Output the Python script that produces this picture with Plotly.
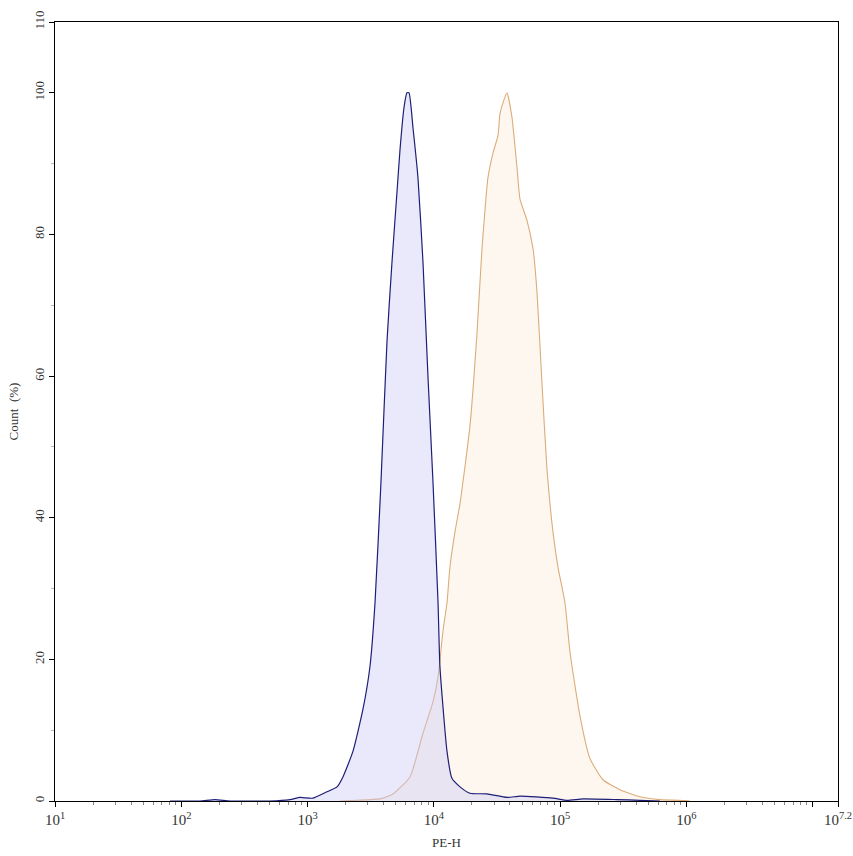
import plotly.graph_objects as go

# PE-H values as log10 exponents
blue_log = [1.911, 2.148, 2.267, 2.386, 2.702, 2.861, 2.940, 3.043, 3.154, 3.233, 3.280, 3.359,
            3.439, 3.494, 3.534, 3.581, 3.629, 3.668, 3.708, 3.732, 3.764, 3.787, 3.803, 3.835,
            3.874, 3.914, 3.953, 3.993, 4.033, 4.048, 4.104, 4.143, 4.207, 4.286, 4.420, 4.579,
            4.682, 4.943, 5.054, 5.181, 5.450, 5.632, 5.790]
blue_count = [0, 0, 0.2, 0, 0, 0.2, 0.5, 0.4, 1.3, 2.0, 3.4, 7,
              13, 19, 28, 45, 65, 76, 86, 92, 98, 100, 100, 95,
              88, 76, 60, 45, 28, 19, 7, 3.2, 2.0, 1.1, 1.0, 0.5,
              0.7, 0.4, 0.1, 0.3, 0.2, 0.1, 0]

orange_log = [3.257, 3.391, 3.573, 3.676, 3.811, 3.914, 3.993, 4.033, 4.072, 4.104, 4.127, 4.167,
              4.207, 4.286, 4.341, 4.381, 4.405, 4.428, 4.468, 4.508, 4.523, 4.555, 4.579, 4.618,
              4.658, 4.682, 4.737, 4.785, 4.816, 4.856, 4.895, 4.943, 4.983, 5.038, 5.078, 5.157,
              5.236, 5.339, 5.473, 5.632, 5.790, 5.988, 6.028]
orange_count = [0, 0.1, 0.3, 1.0, 3.4, 9.6, 14, 17.5, 24, 28, 33, 38,
                42, 53, 66, 78, 83.5, 88, 91.5, 94, 97, 99, 100, 96.6,
                89.5, 85, 82, 78, 72, 59, 47, 38, 33, 28, 21, 12,
                6, 3, 1.6, 0.6, 0.2, 0.05, 0]

x_tick_exp = [1, 2, 3, 4, 5, 6, 7, 7.2]
x_tick_text = ["10<sup>1</sup>", "10<sup>2</sup>", "10<sup>3</sup>", "10<sup>4</sup>",
               "10<sup>5</sup>", "10<sup>6</sup>", "", "10<sup>7.2</sup>"]
y_ticks = [0, 20, 40, 60, 80, 100, 110]

FONT = "Liberation Serif"

fig = go.Figure()
fig.add_trace(go.Scatter(
    x=[10 ** v for v in orange_log], y=orange_count, mode="lines",
    line=dict(color="rgb(220,172,122)", width=1.1, shape="spline", smoothing=0.5),
    fill="tozeroy", fillcolor="rgba(250,220,190,0.24)", showlegend=False))
fig.add_trace(go.Scatter(
    x=[10 ** v for v in blue_log], y=blue_count, mode="lines",
    line=dict(color="rgb(30,30,120)", width=1.2, shape="spline", smoothing=0.5),
    fill="tozeroy", fillcolor="rgba(200,200,245,0.4)", showlegend=False))

minor_x = [m * 10 ** d for d in range(1, 7) for m in range(2, 10)]

fig.update_layout(
    width=853, height=856,
    margin=dict(l=55, r=15, t=22, b=55),
    plot_bgcolor="white", paper_bgcolor="white",
    font=dict(family=FONT, color="#333333", size=13),
    xaxis=dict(
        type="log", range=[1, 7.2], automargin=False,
        tickmode="array", tickvals=[10 ** v for v in x_tick_exp], ticktext=x_tick_text,
        ticks="outside", ticklen=5, tickcolor="black",
        showline=True, linecolor="black", linewidth=1, mirror=True,
        showgrid=False, zeroline=False,
        tickfont=dict(size=15, family=FONT, color="#333333"),
        minor=dict(tickvals=minor_x, ticks="outside", ticklen=3, tickcolor="#888888", showgrid=False),
        title=dict(text="PE-H", font=dict(size=13, family=FONT), standoff=10),
    ),
    yaxis=dict(
        range=[0, 110], automargin=False,
        tickmode="array", tickvals=y_ticks, ticktext=[str(v) for v in y_ticks],
        tickangle=-90,
        ticks="outside", ticklen=5, tickcolor="black",
        showline=True, linecolor="black", linewidth=1, mirror=True,
        showgrid=False, zeroline=False,
        tickfont=dict(size=13, family=FONT, color="#333333"),
        minor=dict(dtick=10, ticks="outside", ticklen=3, tickcolor="#bbbbbb", showgrid=False),
        title=dict(text="Count  (%)", font=dict(size=13, family=FONT), standoff=10),
    ),
)

fig.write_html("out.html", config={"displayModeBar": False},
               post_script="document.body.style.margin='0px';")
